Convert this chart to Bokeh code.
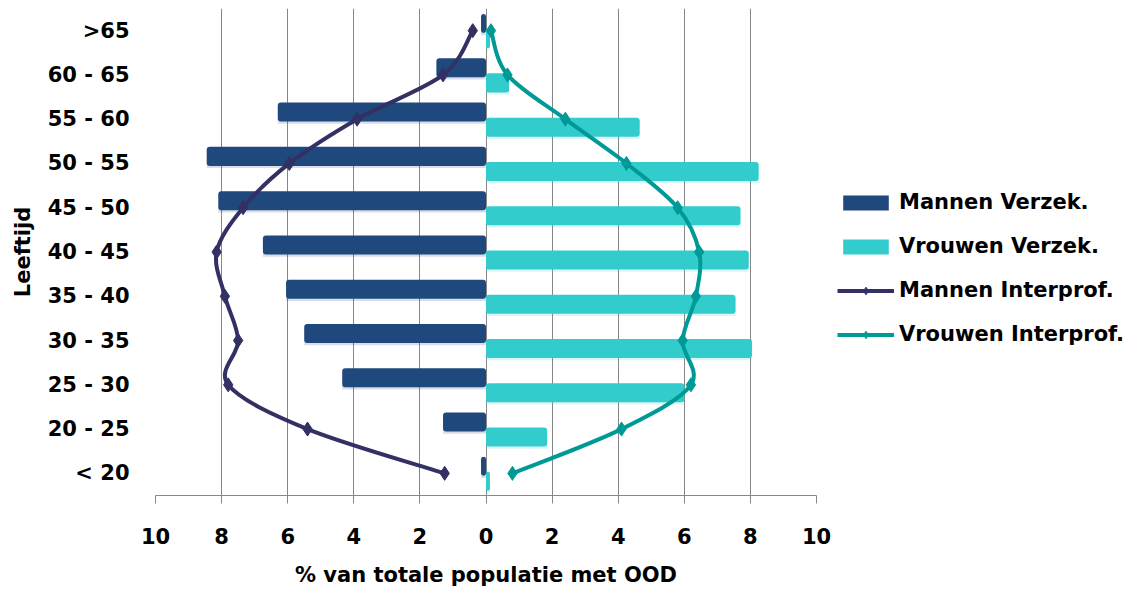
from bokeh.plotting import figure
from bokeh.models import FixedTicker, Legend, LegendItem, Range1d
from bokeh.embed import file_html
from bokeh.resources import INLINE

# ---------------- data ----------------
age_groups = ["< 20", "20 - 25", "25 - 30", "30 - 35", "35 - 40", "40 - 45",
              "45 - 50", "50 - 55", "55 - 60", "60 - 65", ">65"]
mannen_verzek = [0.15, 1.3, 4.35, 5.5, 6.05, 6.75, 8.1, 8.45, 6.3, 1.5, 0.15]
vrouwen_verzek = [0.12, 1.85, 6.0, 8.05, 7.55, 7.95, 7.7, 8.25, 4.65, 0.7, 0.12]
mannen_interprof = [1.25, 5.4, 7.8, 7.5, 7.9, 8.15, 7.35, 5.95, 3.9, 1.3, 0.4]
vrouwen_interprof = [0.8, 4.1, 6.2, 5.95, 6.35, 6.45, 5.8, 4.25, 2.4, 0.65, 0.15]
x_ticks = [-10, -8, -6, -4, -2, 0, 2, 4, 6, 8, 10]
x_tick_labels = ["10", "8", "6", "4", "2", "0", "2", "4", "6", "8", "10"]

series_names = ["Mannen Verzek.", "Vrouwen Verzek.", "Mannen Interprof.", "Vrouwen Interprof."]

# ---------------- style ----------------
C_MEN_BAR = "#1F497D"
C_WOMEN_BAR = "#33CCCC"
C_MEN_LINE = "#333063"
C_WOMEN_LINE = "#009A96"
GRID = "#878787"
FONT = "DejaVu Sans"
FS = "21px"

ypos = list(range(len(age_groups)))

p = figure(frame_width=661, frame_height=487,
           min_border_left=155, min_border_right=300,
           min_border_top=8, min_border_bottom=90,
           x_range=Range1d(-10, 10), y_range=Range1d(-0.5, len(age_groups) - 0.5),
           output_backend="svg", toolbar_location=None, tools="")
p.outline_line_color = None
p.background_fill_color = "white"

# ---------------- bars ----------------
BAR_H = 0.43
men_y = [y + 0.16 for y in ypos]
women_y = [y - 0.18 for y in ypos]
men_left = [-v for v in mannen_verzek]

# soft shadows
p.hbar(y=[y - 0.05 for y in men_y], left=men_left, right=0, height=BAR_H,
       fill_color=C_MEN_BAR, fill_alpha=0.18, line_color=None)
p.hbar(y=[y - 0.05 for y in women_y], left=0, right=vrouwen_verzek, height=BAR_H,
       fill_color=C_WOMEN_BAR, fill_alpha=0.18, line_color=None)

r_men_bar = p.hbar(y=men_y, left=men_left, right=0, height=BAR_H,
                   fill_color=C_MEN_BAR, line_color=None, border_radius=3)
r_women_bar = p.hbar(y=women_y, left=0, right=vrouwen_verzek, height=BAR_H,
                     fill_color=C_WOMEN_BAR, line_color=None, border_radius=3)


# ---------------- smoothed lines (Catmull-Rom as Bezier) ----------------
def smooth(xs, ys, color):
    n = len(xs)
    x0, y0, x1, y1, cx0, cy0, cx1, cy1 = [], [], [], [], [], [], [], []
    for i in range(n - 1):
        a = max(i - 1, 0)
        d = min(i + 2, n - 1)
        x0.append(xs[i]); y0.append(ys[i])
        x1.append(xs[i + 1]); y1.append(ys[i + 1])
        cx0.append(xs[i] + (xs[i + 1] - xs[a]) / 6.0)
        cy0.append(ys[i] + (ys[i + 1] - ys[a]) / 6.0)
        cx1.append(xs[i + 1] - (xs[d] - xs[i]) / 6.0)
        cy1.append(ys[i + 1] - (ys[d] - ys[i]) / 6.0)
    p.bezier(x0=x0, y0=y0, x1=x1, y1=y1, cx0=cx0, cy0=cy0, cx1=cx1, cy1=cy1,
             line_color=color, line_width=4)


men_line_x = [-v for v in mannen_interprof]
smooth(men_line_x, ypos, C_MEN_LINE)
smooth(vrouwen_interprof, ypos, C_WOMEN_LINE)

r_men_pts = p.scatter(x=men_line_x, y=ypos, marker="diamond", size=14,
                      fill_color=C_MEN_LINE, line_color=C_MEN_LINE)
r_women_pts = p.scatter(x=vrouwen_interprof, y=ypos, marker="diamond", size=14,
                        fill_color=C_WOMEN_LINE, line_color=C_WOMEN_LINE)

# legend line swatches (single point -> draws nothing in the plot itself)
r_men_leg = p.line(x=men_line_x[:1], y=ypos[:1], line_color=C_MEN_LINE, line_width=4)
r_women_leg = p.line(x=vrouwen_interprof[:1], y=ypos[:1], line_color=C_WOMEN_LINE, line_width=4)

# ---------------- axes & grid ----------------
p.xaxis.ticker = FixedTicker(ticks=x_ticks)
p.xaxis.major_label_overrides = {t: l for t, l in zip(x_ticks, x_tick_labels)}
p.xaxis.axis_label = "% van totale populatie met OOD"
p.xaxis.axis_line_color = GRID
p.xaxis.major_tick_line_color = GRID
p.xaxis.major_tick_out = 8
p.xaxis.major_tick_in = 0
p.xaxis.minor_tick_line_color = None
p.xaxis.major_label_standoff = 24
p.xaxis.axis_label_standoff = 16

p.yaxis.ticker = FixedTicker(ticks=ypos)
p.yaxis.major_label_overrides = {i: l for i, l in zip(ypos, age_groups)}
p.yaxis.axis_label = "Leeftijd"
p.yaxis.axis_line_color = None
p.yaxis.major_tick_line_color = None
p.yaxis.minor_tick_line_color = None
p.yaxis.major_label_standoff = 20
p.yaxis.axis_label_standoff = 10

for ax in (p.xaxis, p.yaxis):
    ax.major_label_text_font = FONT
    ax.major_label_text_font_size = FS
    ax.major_label_text_font_style = "bold"
    ax.major_label_text_color = "black"
    ax.axis_label_text_font = FONT
    ax.axis_label_text_font_size = FS
    ax.axis_label_text_font_style = "bold"
    ax.axis_label_text_color = "black"

p.xgrid.ticker = FixedTicker(ticks=x_ticks)
p.xgrid.grid_line_color = GRID
p.ygrid.visible = False

# ---------------- legend ----------------
legend = Legend(items=[
    LegendItem(label=series_names[0], renderers=[r_men_bar]),
    LegendItem(label=series_names[1], renderers=[r_women_bar]),
    LegendItem(label=series_names[2], renderers=[r_men_leg, r_men_pts]),
    LegendItem(label=series_names[3], renderers=[r_women_leg, r_women_pts]),
], location=(21, 149), orientation="vertical")
legend.background_fill_alpha = 0
legend.border_line_color = None
legend.padding = 0
legend.margin = 0
legend.spacing = 20
legend.glyph_width = 57
legend.glyph_height = 19
legend.label_height = 19
legend.label_standoff = 5
legend.label_text_font = FONT
legend.label_text_font_size = "21px"
legend.label_text_font_style = "bold"
legend.label_text_color = "black"
legend.label_text_baseline = "middle"
p.add_layout(legend, "right")

open("out.html", "w").write(file_html(p, INLINE))
